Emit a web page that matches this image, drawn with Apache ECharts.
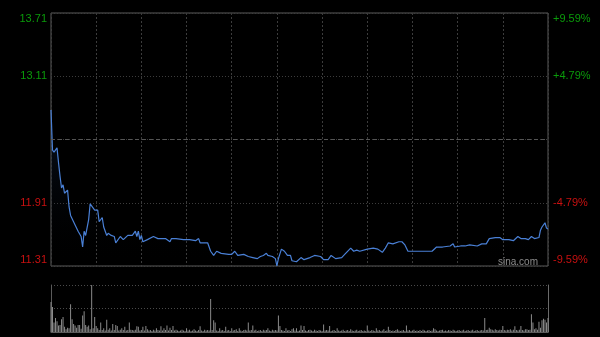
<!DOCTYPE html>
<html>
<head>
<meta charset="utf-8">
<script src="https://cdn.jsdelivr.net/npm/echarts@6/dist/echarts.min.js"></script>
<style>
html,body{margin:0;padding:0;background:#000;}
#c{width:600px;height:337px;}
</style>
</head>
<body>
<div id="c"></div>
<script>
const prevClose = 12.51;
const priceMinutes = [0,1,2,4,5,6,7,8,9,11,12,13,16,18,20,21,22,23,25,26,27,29,31,32,34,35,37,38,40,42,43,46,48,51,54,56,57,58,59,60,61,64,68,71,76,79,80,83,88,92,96,98,99,104,106,108,110,113,118,120,122,124,128,131,134,137,139,141,143,144,147,149,150,151,153,155,157,159,160,163,166,168,172,175,179,181,184,186,189,193,195,196,199,201,203,205,210,214,217,220,222,224,227,231,233,235,237,241,244,247,253,256,260,265,267,268,272,275,278,283,286,289,291,295,298,300,304,307,310,312,315,317,319,321,324,325,326,328,329,330];
const prices = [12.79,12.41,12.39,12.43,12.29,12.16,12.05,12.08,12.00,12.03,11.87,11.79,11.70,11.64,11.59,11.49,11.64,11.60,11.75,11.90,11.89,11.84,11.84,11.73,11.77,11.68,11.60,11.62,11.60,11.59,11.53,11.59,11.56,11.60,11.60,11.64,11.59,11.64,11.56,11.60,11.54,11.56,11.59,11.57,11.57,11.54,11.57,11.57,11.56,11.56,11.55,11.57,11.53,11.53,11.45,11.41,11.45,11.43,11.42,11.42,11.45,11.41,11.42,11.40,11.39,11.38,11.40,11.41,11.43,11.41,11.40,11.38,11.31,11.38,11.47,11.45,11.41,11.41,11.36,11.35,11.39,11.37,11.39,11.41,11.40,11.37,11.37,11.41,11.38,11.39,11.42,11.43,11.48,11.45,11.46,11.45,11.47,11.48,11.47,11.44,11.48,11.53,11.52,11.54,11.54,11.51,11.45,11.45,11.45,11.45,11.45,11.49,11.49,11.50,11.52,11.49,11.50,11.50,11.51,11.50,11.52,11.52,11.57,11.58,11.58,11.56,11.56,11.55,11.59,11.57,11.57,11.56,11.59,11.57,11.58,11.65,11.68,11.72,11.67,11.66];
const volumes = [64,53,20,30,23,14,15,27,32,11,
6,9,8,59,27,17,14,9,15,15,
7,35,44,15,11,14,6,100,8,32,
13,8,4,20,4,8,3,26,5,8,
3,17,4,15,13,3,5,8,4,11,
3,4,20,5,4,3,5,12,11,3,
4,11,3,13,6,3,4,2,5,3,
8,4,3,12,3,8,4,14,3,9,
4,13,3,5,3,2,3,5,3,2,
8,3,5,2,3,6,3,2,4,12,
3,2,5,3,4,3,70,4,25,20,
3,2,8,3,4,2,11,3,4,2,
8,3,4,6,2,8,3,2,4,5,
3,20,3,4,14,3,5,2,3,4,
2,5,3,4,8,3,2,5,3,4,
3,35,13,4,3,2,8,3,4,2,
6,8,3,8,2,3,14,4,13,3,
2,4,5,3,2,5,3,2,4,3,
2,16,3,4,3,13,2,3,4,2,
8,3,2,3,5,2,3,4,2,6,
3,2,3,5,2,3,4,2,3,2,
14,3,2,4,3,2,8,3,4,2,
3,6,2,3,11,4,2,3,2,4,
6,3,2,3,4,2,14,3,4,2,
3,5,2,3,2,4,2,5,3,2,
3,4,2,3,8,6,3,2,3,4,
5,2,3,2,4,3,2,5,3,2,
3,4,2,3,5,2,3,4,2,3,
5,2,3,4,2,3,4,3,30,4,
5,9,6,5,3,6,4,3,5,4,
13,4,3,5,4,6,3,5,12,4,
3,5,13,4,3,6,6,4,5,38,
20,6,8,5,22,9,25,28,26,20,
30];
const leftTickLabels = ['11.31','11.91','12.51','13.11','13.71'];
const rightTickLabels = ['-9.59%','-4.79%','','+4.79%','+9.59%'];
const tickStyles = ['rb','r','n','g','gt'];

const GREEN = '#0a9a0a', RED = '#c81010';
const rich = {
  gt: {color: GREEN, fontSize: 11, fontFamily: 'Liberation Sans, Arial', padding: [12,0,0,0]},
  g:  {color: GREEN, fontSize: 11, fontFamily: 'Liberation Sans, Arial'},
  n:  {color: '#000', fontSize: 11},
  r:  {color: RED, fontSize: 11, fontFamily: 'Liberation Sans, Arial'},
  rb: {color: RED, fontSize: 11, fontFamily: 'Liberation Sans, Arial', padding: [0,0,12,0]}
};
function idx(v){ return Math.round((v + 1.2) / 0.6); }

const chart = echarts.init(document.getElementById('c'), null, {renderer: 'canvas'});
chart.setOption({
  backgroundColor: '#000',
  animation: false,
  grid: [
    {left: 51, top: 13, width: 497, height: 253, show: true, borderColor: '#5a5a5a', borderWidth: 1, backgroundColor: 'transparent'},
    {left: 51, top: 285, width: 497, height: 47, show: false}
  ],
  xAxis: [
    {type: 'value', gridIndex: 0, min: 0, max: 330, interval: 30,
     axisLine: {show: false}, axisTick: {show: false}, axisLabel: {show: false},
     splitLine: {show: true, lineStyle: {color: '#3c3c3c', type: [2,2], width: 1}}},
    {type: 'value', gridIndex: 1, min: 0, max: 330, interval: 30,
     axisLine: {show: true, onZero: false, lineStyle: {color: '#5a5a5a'}}, axisTick: {show: false}, axisLabel: {show: false},
     splitLine: {show: false}}
  ],
  yAxis: [
    {type: 'value', gridIndex: 0, min: -1.2, max: 1.2, interval: 0.6, position: 'left',
     axisLine: {show: false}, axisTick: {show: false},
     axisLabel: {margin: 4, formatter: v => '{' + tickStyles[idx(v)] + '|' + leftTickLabels[idx(v)] + '}', rich: rich},
     splitLine: {show: true, lineStyle: {color: '#3c3c3c', type: [1,2], width: 1}}},
    {type: 'value', gridIndex: 0, min: -1.2, max: 1.2, interval: 0.6, position: 'right',
     axisLine: {show: false}, axisTick: {show: false},
     axisLabel: {margin: 5, formatter: v => '{' + tickStyles[idx(v)] + '|' + rightTickLabels[idx(v)] + '}', rich: rich},
     splitLine: {show: false}},
    {type: 'value', gridIndex: 1, min: 0, max: 100, interval: 50, position: 'left',
     axisLine: {show: true, lineStyle: {color: '#5a5a5a'}}, axisTick: {show: false}, axisLabel: {show: false},
     splitLine: {show: true, lineStyle: {color: '#4a4a4a', type: [1,2], width: 1}}},
    {type: 'value', gridIndex: 1, min: 0, max: 100, interval: 50, position: 'right',
     axisLine: {show: true, lineStyle: {color: '#6a6a6a'}}, axisTick: {show: false}, axisLabel: {show: false},
     splitLine: {show: false}}
  ],
  series: [
    {type: 'line', xAxisIndex: 0, yAxisIndex: 0, symbol: 'none', smooth: false,
     data: priceMinutes.map((m, i) => [m, +(prices[i] - prevClose).toFixed(4)]),
     lineStyle: {color: '#4a80d6', width: 1.2},
     areaStyle: {origin: 'start', color: new echarts.graphic.LinearGradient(0, 0, 0, 1, [
        {offset: 0, color: 'rgba(40,80,140,0.35)'}, {offset: 1, color: 'rgba(0,0,0,0)'}])},
     markLine: {silent: true, symbol: 'none', label: {show: false},
       lineStyle: {color: '#555', type: [4,3], width: 1}, data: [{yAxis: 0}]}},
    {type: 'bar', xAxisIndex: 1, yAxisIndex: 2, barWidth: 1,
     data: volumes.map((v, i) => [i, v]),
     itemStyle: {color: '#8a8a8a'}}
  ],
  graphic: [
    {type: 'text', left: 498, top: 257, z: 100,
     style: {text: 'sina.com', fill: '#8c8c8c', font: '10px "Liberation Sans", Arial'}}
  ]
});
</script>
</body>
</html>
